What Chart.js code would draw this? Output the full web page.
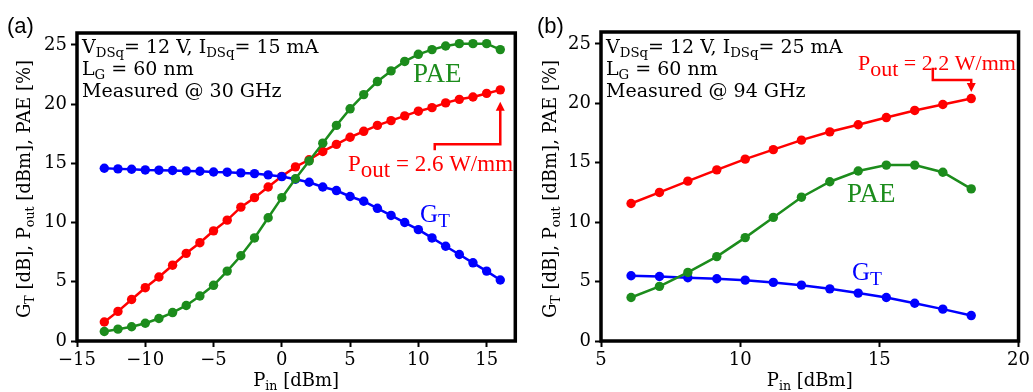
<!DOCTYPE html>
<html>
<head>
<meta charset="utf-8">
<script src="https://cdn.jsdelivr.net/npm/chart.js@4.4.0/dist/chart.umd.min.js"></script>
<style>
  html, body { margin: 0; padding: 0; background: #fff; }
  #wrap { position: relative; width: 1033px; height: 392px; }
  #chartA { position: absolute; left: 0; top: 0; }
  #chartB { position: absolute; left: 520px; top: 0; }
</style>
</head>
<body>
<div id="wrap">
  <canvas id="chartA" width="520" height="392"></canvas>
  <canvas id="chartB" width="513" height="392"></canvas>
</div>
<script>
// ---- panel (a): 30 GHz ----
const pinA = [-13, -12, -11, -10, -9, -8, -7, -6, -5, -4, -3, -2, -1, 0, 1, 2, 3, 4, 5, 6, 7, 8, 9, 10, 11, 12, 13, 14, 15, 16];
const gtA = [14.58, 14.53, 14.5, 14.44, 14.42, 14.39, 14.36, 14.33, 14.27, 14.25, 14.19, 14.13, 14.02, 13.88,
  13.65, 13.4, 13.0, 12.7, 12.2, 11.8, 11.2, 10.6, 10.0, 9.4, 8.7, 8.0, 7.3, 6.6, 5.9, 5.15];
const poutA = [1.6, 2.5, 3.5, 4.5, 5.4, 6.4, 7.4, 8.3, 9.3, 10.2, 11.3, 12.1, 13.0, 13.9,
  14.7, 15.3, 16.0, 16.6, 17.2, 17.7, 18.2, 18.6, 19.0, 19.4, 19.7, 20.1, 20.4, 20.6, 20.9, 21.2];
const paeA = [0.8, 1.0, 1.2, 1.5, 1.9, 2.4, 3.0, 3.8, 4.7, 5.9, 7.2, 8.7, 10.4, 12.1,
  13.7, 15.2, 16.7, 18.2, 19.6, 20.8, 21.9, 22.8, 23.6, 24.2, 24.6, 24.9, 25.1, 25.1, 25.1, 24.6];
const xTicksA = [-15, -10, -5, 0, 5, 10, 15];

// ---- panel (b): 94 GHz ----
const pinB = [6.08, 7.10, 8.12, 9.16, 10.18, 11.19, 12.2, 13.22, 14.24, 15.25, 16.27, 17.28, 18.3];
const gtB = [5.49, 5.43, 5.32, 5.24, 5.12, 4.93, 4.7, 4.39, 4.03, 3.66, 3.18, 2.68, 2.14];
const poutB = [11.57, 12.5, 13.45, 14.4, 15.3, 16.1, 16.9, 17.6, 18.2, 18.8, 19.4, 19.9, 20.4];
const paeB = [3.66, 4.6, 5.77, 7.1, 8.7, 10.4, 12.1, 13.4, 14.3, 14.8, 14.8, 14.2, 12.8];
const xTicksB = [5, 10, 15, 20];

const yTicks = [0, 5, 10, 15, 20, 25];

const RED = "#ff0000";
const GREEN = "#1c8c1c";
const BLUE = "#0000ff";
const SERIF = "'DejaVu Serif', serif";
const TIMES = "'Liberation Serif', 'Times New Roman', serif";

function toPoints(xs, ys) {
  return xs.map((x, i) => ({ x: x, y: ys[i] }));
}

// draw text made of [text, isSub] pieces
function richWidth(ctx, parts, size, family, subScale) {
  let w = 0;
  for (const [t, sub] of parts) {
    ctx.font = (sub ? size * subScale : size) + "px " + family;
    w += ctx.measureText(t).width;
  }
  return w;
}
function drawRich(ctx, parts, x, y, o) {
  let cx = x;
  ctx.textAlign = "left";
  ctx.textBaseline = "alphabetic";
  ctx.fillStyle = o.color;
  for (const [t, sub] of parts) {
    ctx.font = (sub ? o.size * o.subScale : o.size) + "px " + o.family;
    ctx.fillText(t, cx, y + (sub ? o.drop : 0));
    cx += ctx.measureText(t).width;
  }
}

function series(label, xs, ys, color, order) {
  return {
    label: label,
    data: toPoints(xs, ys),
    borderColor: color,
    backgroundColor: color,
    borderWidth: 2.5,
    pointRadius: 4.7,
    pointBorderWidth: 0,
    pointBackgroundColor: color,
    tension: 0,
    order: order,
  };
}

function makeChart(id, cfg) {
  const ctx = document.getElementById(id).getContext("2d");

  const panelPlugin = {
    id: "panel" + id,
    afterDatasetsDraw(chart) {
      const c = chart.ctx;
      const a = chart.chartArea;
      c.save();
      c.strokeStyle = "#000";
      c.lineWidth = 3.5;
      c.strokeRect(a.left, a.top, a.right - a.left, a.bottom - a.top);
      c.restore();
    },
    afterDraw(chart) {
      const c = chart.ctx;
      const a = chart.chartArea;
      const xs = chart.scales.x;
      const ys = chart.scales.y;
      c.save();

      // panel letter
      c.font = "22px 'Liberation Sans', Arial, sans-serif";
      c.fillStyle = "#000";
      c.textAlign = "left";
      c.textBaseline = "alphabetic";
      c.fillText(cfg.letter, cfg.letterX, 33);

      // y axis title (rotated)
      const yParts = [["G", 0], ["T", 1], [" [dB], P", 0], ["out", 1], [" [dBm], PAE [%]", 0]];
      const yw = richWidth(c, yParts, 18, SERIF, 0.7);
      c.save();
      c.translate(cfg.yTitleX, 189);
      c.rotate(-Math.PI / 2);
      drawRich(c, yParts, -yw / 2, 6, { size: 18, family: SERIF, subScale: 0.7, drop: 4, color: "#000" });
      c.restore();

      // x axis title
      const xParts = [["P", 0], ["in", 1], [" [dBm]", 0]];
      const xw = richWidth(c, xParts, 18, SERIF, 0.7);
      drawRich(c, xParts, (a.left + a.right) / 2 - xw / 2, 386, { size: 18, family: SERIF, subScale: 0.7, drop: 4, color: "#000" });

      // conditions text block
      const tOpt = { size: 19, family: SERIF, subScale: 0.7, drop: 4, color: "#000" };
      drawRich(c, [["V", 0], ["DSq", 1], ["= 12 V, I", 0], ["DSq", 1], ["= " + cfg.ids, 0]], a.left + 5, 53, tOpt);
      drawRich(c, [["L", 0], ["G", 1], [" = 60 nm", 0]], a.left + 5, 75, tOpt);
      drawRich(c, [["Measured @ " + cfg.freq, 0]], a.left + 5, 97, tOpt);

      // series labels
      drawRich(c, [["PAE", 0]], cfg.paeLabel[0], cfg.paeLabel[1], { size: 27, family: TIMES, subScale: 1, drop: 0, color: GREEN });
      drawRich(c, [["G", 0], ["T", 1]], cfg.gtLabel[0], cfg.gtLabel[1], { size: 25, family: TIMES, subScale: 0.78, drop: 5, color: BLUE });
      drawRich(c, [["P", 0], ["out", 1], [" = " + cfg.power, 0]], cfg.powLabel[0], cfg.powLabel[1],
        { size: cfg.powSize, family: TIMES, subScale: 1.0, drop: 6, color: RED });

      // arrow to the last P_out point, path given in data units
      const pts = cfg.arrow.map(p => [xs.getPixelForValue(p[0]), ys.getPixelForValue(p[1])]);
      c.strokeStyle = RED;
      c.fillStyle = RED;
      c.lineWidth = 2.5;
      c.beginPath();
      c.moveTo(pts[0][0], pts[0][1]);
      for (let i = 1; i < pts.length - 1; i++) c.lineTo(pts[i][0], pts[i][1]);
      const last = pts[pts.length - 1];
      const prev = pts[pts.length - 2];
      const dir = Math.sign(last[1] - prev[1]);
      c.lineTo(last[0], last[1] - dir * 8);
      c.stroke();
      c.beginPath();
      c.moveTo(last[0], last[1]);
      c.lineTo(last[0] - 4.5, last[1] - dir * 9);
      c.lineTo(last[0] + 4.5, last[1] - dir * 9);
      c.closePath();
      c.fill();

      c.restore();
    },
  };

  return new Chart(ctx, {
    type: "line",
    data: {
      datasets: [
        series("PAE", cfg.pin, cfg.pae, GREEN, 0),
        series("GT", cfg.pin, cfg.gt, BLUE, 1),
        series("Pout", cfg.pin, cfg.pout, RED, 2),
      ],
    },
    options: {
      responsive: false,
      animation: false,
      devicePixelRatio: 1,
      layout: { padding: { left: 0, right: cfg.padRight, top: cfg.padTop, bottom: 0 } },
      plugins: { legend: { display: false }, tooltip: { enabled: false } },
      scales: {
        x: {
          type: "linear",
          min: cfg.xMin,
          max: cfg.xMax,
          afterBuildTicks: (s) => { s.ticks = cfg.xTicks.map(v => ({ value: v })); },
          afterFit: (s) => { s.height = 51; },
          border: { display: false },
          grid: { drawOnChartArea: false, drawTicks: true, tickLength: 6, tickWidth: 2, tickColor: "#000" },
          ticks: {
            color: "#000",
            padding: 3,
            font: { family: SERIF, size: 18 },
            callback: (v) => String(v).replace("-", "\u2212"),
          },
        },
        y: {
          min: 0,
          max: 26,
          afterBuildTicks: (s) => { s.ticks = yTicks.map(v => ({ value: v })); },
          afterFit: (s) => { s.width = cfg.yWidth; },
          border: { display: false },
          grid: { drawOnChartArea: false, drawTicks: true, tickLength: 6, tickWidth: 2, tickColor: "#000" },
          ticks: {
            color: "#000",
            padding: 4,
            font: { family: SERIF, size: 18 },
          },
        },
      },
    },
    plugins: [panelPlugin],
  });
}

makeChart("chartA", {
  pin: pinA, gt: gtA, pout: poutA, pae: paeA,
  xMin: -15, xMax: 17.1, xTicks: xTicksA,
  yWidth: 77, padRight: 3, padTop: 33,
  letter: "(a)", letterX: 7, yTitleX: 24,
  ids: "15 mA", freq: "30 GHz", power: "2.6 W/mm", powSize: 23,
  paeLabel: [413, 82], gtLabel: [420, 222], powLabel: [348, 171],
  arrow: [[11.2, 16.1], [11.2, 16.6], [16.0, 16.6], [16.0, 20.2]],
});

makeChart("chartB", {
  pin: pinB, gt: gtB, pout: poutB, pae: paeB,
  xMin: 5, xMax: 20, xTicks: xTicksB,
  yWidth: 81, padRight: 12, padTop: 32,
  letter: "(b)", letterX: 17, yTitleX: 30,
  ids: "25 mA", freq: "94 GHz", power: "2.2 W/mm", powSize: 22,
  paeLabel: [327, 202], gtLabel: [332, 280], powLabel: [338, 70],
  arrow: [[16.92, 23.0], [16.92, 21.96], [18.3, 21.96], [18.3, 20.95]],
});
</script>
</body>
</html>
